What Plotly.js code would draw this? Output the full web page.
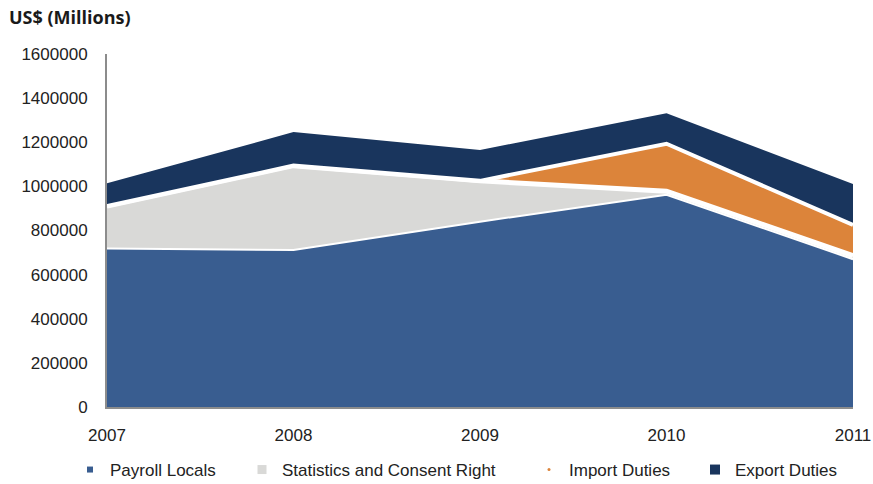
<!DOCTYPE html>
<html>
<head>
<meta charset="utf-8">
<script src="https://cdn.plot.ly/plotly-3.0.1.min.js"></script>
<style>html,body{margin:0;padding:0;background:#fff}#chart{width:873px;height:484px}</style>
</head>
<body>
<div id="chart"></div>
<script>
var years = [2007, 2008, 2009, 2010, 2011];
var payrollLocals = [718000, 712000, 840000, 962000, 670000];
var statisticsConsent = [193000, 382000, 185000, 16000, 16000];
var importDuties = [0, 0, 0, 215000, 139000];
var exportDuties = [103000, 152000, 140000, 139000, 186000];
var seriesNames = ['Payroll Locals', 'Statistics and Consent Right', 'Import Duties', 'Export Duties'];
var yTicks = [0, 200000, 400000, 600000, 800000, 1000000, 1200000, 1400000, 1600000];

var colors = ['#395d90', '#d9d9d7', '#dc843a', '#19355d'];
var lineW = [2, 5, 4, 0];
var seriesData = [payrollLocals, statisticsConsent, importDuties, exportDuties];
var legendSym = [{s:'square', z:6}, {s:'square', z:9}, {s:'circle', z:3}, {s:'square', z:10}];
var legendIds = ['legend', 'legend2', 'legend3', 'legend4'];
var legendLeft = [70, 242, 529, 695];

var traces = [];
seriesData.forEach(function(vals, i){
  traces.push({
    type: 'scatter', x: years, y: vals, name: seriesNames[i],
    stackgroup: 'one', mode: 'lines',
    line: {color: i === 3 ? colors[3] : '#ffffff', width: lineW[i]},
    fillcolor: colors[i], showlegend: false, hoverinfo: 'x+y+name'
  });
});
seriesData.forEach(function(vals, i){
  traces.push({
    type: 'scatter', x: [null], y: [null], name: seriesNames[i], mode: 'markers',
    marker: {symbol: legendSym[i].s, size: legendSym[i].z, color: colors[i]},
    showlegend: true, legend: legendIds[i], hoverinfo: 'skip'
  });
});

var layout = {
  width: 873, height: 484,
  margin: {l: 107, r: 20, t: 54, b: 77},
  paper_bgcolor: '#ffffff', plot_bgcolor: '#ffffff',
  font: {family: 'Liberation Sans, Arial, sans-serif', size: 17, color: '#222'},
  title: {text: '<b>US$ (Millions)</b>', x: 9/873, xanchor: 'left', xref: 'container',
          y: 1 - 18/484, yanchor: 'middle', yref: 'container',
          font: {family: 'Open Sans, sans-serif', size: 18, color: '#1a1a1a'}},
  xaxis: {range: [2007, 2011], tickvals: years, ticktext: years.map(String),
          showgrid: false, zeroline: false, showline: true, linecolor: '#8c8c8c', linewidth: 2,
          ticks: '', ticklabelstandoff: 12, fixedrange: true,
          tickfont: {size: 17, color: '#222'}},
  yaxis: {range: [0, 1600000], tickvals: yTicks, ticktext: yTicks.map(String),
          showgrid: false, zeroline: false, showline: true, linecolor: '#8c8c8c', linewidth: 2,
          ticks: '', ticklabelstandoff: 14, fixedrange: true,
          tickfont: {size: 17, color: '#222'}},
  showlegend: true
};
legendIds.forEach(function(id, i){
  layout[id] = {orientation: 'h', xref: 'container', yref: 'container',
                x: legendLeft[i] / 873, xanchor: 'left', y: 1 - 470/484, yanchor: 'middle',
                itemwidth: 30, font: {size: 17, color: '#222'}, bgcolor: 'rgba(0,0,0,0)'};
});

Plotly.newPlot('chart', traces, layout, {displayModeBar: false, staticPlot: true});
</script>
</body>
</html>
